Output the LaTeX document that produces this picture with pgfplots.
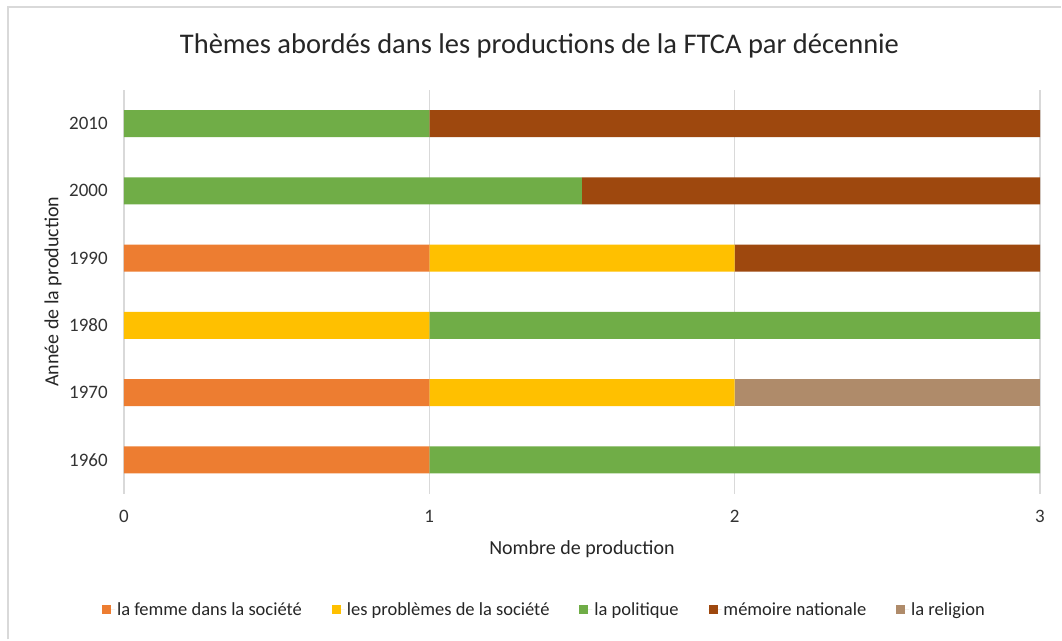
\documentclass[border=0pt]{standalone}
\usepackage{fontspec}
\setmainfont{Carlito}
\usepackage{pgfplots}
\pgfplotsset{compat=1.18}
\definecolor{cfemme}{HTML}{ED7D31}
\definecolor{cprob}{HTML}{FFC000}
\definecolor{cpol}{HTML}{70AD47}
\definecolor{cmem}{HTML}{9E480E}
\definecolor{crel}{HTML}{AF8B6A}
\definecolor{cgrid}{HTML}{D9D9D9}
\begin{document}
\begin{tikzpicture}[x=1pt,y=1pt]
\fill[white] (0,0) rectangle (1062,640);
\coordinate (P) at (124,146);
\draw[cgrid, line width=2pt] (8.5,0) -- (8.5,632.5) -- (1062,632.5);
\node[font=\fontsize{28.5pt}{34pt}\selectfont, text=black!85] at (540,594) {Thèmes abordés dans les productions de la FTCA par décennie};
\begin{axis}[
  at={(P)}, anchor=south west,
  scale only axis, width=917pt, height=404pt,
  xbar stacked, bar width=27pt,
  xmin=0, xmax=3, ymin=-0.5, ymax=5.5,
  xtick={0,1,2,3},
  ytick={0,1,2,3,4,5},
  yticklabels={1960,1970,1980,1990,2000,2010},
  xmajorgrids, grid style={cgrid, line width=1.3pt},
  axis line style={draw=none},
  major tick length=0pt,
  /pgf/number format/assume math mode=true,
  tick label style={font=\fontsize{19pt}{23pt}\selectfont, text=black!80, inner sep=0pt},
  xticklabel style={anchor=base, yshift=-29pt},
  yticklabel style={anchor=east, xshift=-16pt},
  xlabel={Nombre de production},
  ylabel={Année de la production},
  label style={font=\fontsize{20pt}{24pt}\selectfont, text=black!85},
  xlabel style={at={([yshift=-56pt]axis description cs:0.5,0)}, anchor=center},
  ylabel style={at={([xshift=-71pt]axis description cs:0,0.5)}, anchor=center},
  legend columns=5,
  legend style={draw=none, fill=none, at={([yshift=-116pt]axis description cs:0.459,0)}, anchor=center,
    font=\fontsize{18.5pt}{22pt}\selectfont, text=black!85,
    /tikz/every even column/.append style={column sep=28pt},
    inner sep=0pt},
  legend image code/.code={\fill[#1] (0pt,-4.5pt) rectangle (9pt,4.5pt); \path (0pt,0pt) -- (13pt,0pt);},
  every axis plot/.append style={draw=none},
]
\addplot+[fill=cfemme] coordinates {(1,0) (1,1) (0,2) (1,3) (0,4) (0,5)};
\addplot+[fill=cprob] coordinates {(0,0) (1,1) (1,2) (1,3) (0,4) (0,5)};
\addplot+[fill=cpol] coordinates {(2,0) (0,1) (2,2) (0,3) (1.5,4) (1,5)};
\addplot+[fill=cmem] coordinates {(0,0) (0,1) (0,2) (1,3) (1.5,4) (2,5)};
\addplot+[fill=crel] coordinates {(0,0) (1,1) (0,2) (0,3) (0,4) (0,5)};
\legend{la femme dans la société, les problèmes de la société, la politique, mémoire nationale, la religion}
\end{axis}
\end{tikzpicture}
\end{document}
